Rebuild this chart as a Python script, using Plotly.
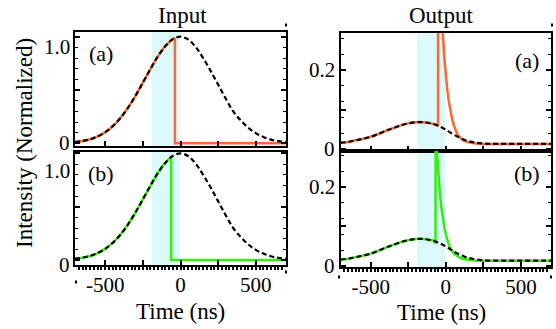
import plotly.graph_objects as go

W, H = 556, 329
FONT = "Liberation Serif"

# ---------------- data ----------------
# Input (normalized) probe pulse, dashed reference
t_in = [-700, -650, -600, -550, -500, -450, -400, -350, -300, -250, -200, -150, -100, -50,
        0, 50, 100, 150, 200, 250, 300, 350, 400, 450, 500, 550, 600, 650, 700]
in_ref = [0.012, 0.022, 0.038, 0.065, 0.104, 0.160, 0.235, 0.330, 0.443, 0.568, 0.696, 0.816, 0.913, 0.978,
          1.000, 0.975, 0.905, 0.800, 0.680, 0.550, 0.420, 0.300, 0.215, 0.145, 0.095, 0.060, 0.035, 0.020, 0.011]

# Input (a): truncated pulse (rising part, then drop)
in_a_rise_t = [-700, -650, -600, -550, -500, -450, -400, -350, -300, -250, -200, -150, -100, -50, -37]
in_a_rise_v = [0.012, 0.022, 0.038, 0.065, 0.104, 0.160, 0.235, 0.330, 0.443, 0.568, 0.696, 0.816, 0.913, 0.978, 0.990]
in_a_drop_t = [-37, -37, 700]
in_a_drop_v = [0.990, 0.0, 0.0]

# Input (b)
in_b_rise_t = [-700, -650, -600, -550, -500, -450, -400, -350, -300, -250, -200, -150, -100, -62]
in_b_rise_v = [0.012, 0.022, 0.038, 0.065, 0.104, 0.160, 0.235, 0.330, 0.443, 0.568, 0.696, 0.816, 0.913, 0.966]
in_b_drop_t = [-62, -62, 700]
in_b_drop_v = [0.966, 0.0, 0.0]

# Output reference (dashed)
t_out = t_in
out_ref = [0.016, 0.018, 0.022, 0.026, 0.031, 0.038, 0.046, 0.053, 0.060, 0.065, 0.068, 0.068, 0.065, 0.059,
           0.049, 0.037, 0.027, 0.020, 0.016, 0.014, 0.013, 0.013, 0.013, 0.013, 0.013, 0.013, 0.013, 0.013, 0.013]

# Output (a)
out_a_rise_t = [-700, -650, -600, -550, -500, -450, -400, -350, -300, -250, -200, -150, -100, -60, -52]
out_a_rise_v = [0.016, 0.018, 0.022, 0.026, 0.031, 0.038, 0.046, 0.053, 0.060, 0.065, 0.068, 0.068, 0.065, 0.061, 0.057]
out_a_spike_t = [-52, -51, -40, -30, -20, -10, 0, 10, 20, 30, 40, 50, 60, 70, 80, 100, 120, 150, 200, 250, 700]
out_a_spike_v = [0.057, 0.57, 0.45, 0.36, 0.29, 0.23, 0.185, 0.148, 0.12, 0.097, 0.079, 0.064, 0.052, 0.043,
                 0.036, 0.027, 0.021, 0.017, 0.014, 0.013, 0.013]

# Output (b)
out_b_rise_t = [-700, -650, -600, -550, -500, -450, -400, -350, -300, -250, -200, -150, -100, -75, -69]
out_b_rise_v = [0.016, 0.018, 0.022, 0.026, 0.031, 0.038, 0.046, 0.053, 0.060, 0.065, 0.068, 0.068, 0.065, 0.063, 0.056]
out_b_spike_t = [-69, -68, -60, -50, -40, -30, -20, -10, 0, 10, 20, 30, 40, 50, 60, 70, 80, 100, 120, 150, 200, 700]
out_b_spike_v = [0.056, 0.35, 0.292, 0.232, 0.186, 0.149, 0.120, 0.098, 0.080, 0.066, 0.054, 0.046, 0.039, 0.033,
                 0.029, 0.026, 0.023, 0.019, 0.017, 0.015, 0.013, 0.013]

band = [-192, -3]
x_tickvals = [-500, -250, 0, 250, 500]
x_ticktext = ["-500", "", "0", "", "500"]

ORANGE = "#ff6633"
GREEN = "#33ee11"
CYAN = "#dcf9fb"

# ---------------- layout helpers ----------------
def px_x(a, b):
    return [a / W, b / W]

def px_y(top, bottom):
    return [1 - bottom / H, 1 - top / H]

LX = px_x(75, 286)
RX = px_x(340.7, 551)

panels = [
    # (xaxis name, yaxis name, xdomain, ydomain, yrange, yticks, minor dtick, bottom)
    ("x", "y", LX, px_y(31.5, 146), [-0.025, 1.049], [0, 0.5, 1.0], 0.1, False),
    ("x2", "y2", LX, px_y(152, 265), [-0.047, 1.013], [0, 0.5, 1.0], 0.1, True),
    ("x3", "y3", RX, px_y(33, 151), [-0.005, 0.294], [0, 0.1, 0.2], 0.04, False),
    ("x4", "y4", RX, px_y(151, 267), [-0.003, 0.291], [0, 0.1, 0.2], 0.04, True),
]

fig = go.Figure()

def add(xa, ya, t, v, color, dash=None, width=2.5, shape="spline"):
    fig.add_trace(go.Scatter(x=t, y=v, xaxis=xa, yaxis=ya, mode="lines",
                             line=dict(color=color, width=width, dash=dash, shape=shape),
                             showlegend=False, hoverinfo="skip"))

DASH = "5px,3px"
DW = 2.2
# Input (a)
add("x", "y", in_a_rise_t, in_a_rise_v, ORANGE)
add("x", "y", in_a_drop_t, in_a_drop_v, ORANGE, shape="linear")
add("x", "y", t_in, in_ref, "black", DASH, DW)
# Input (b)
add("x2", "y2", in_b_rise_t, in_b_rise_v, GREEN)
add("x2", "y2", in_b_drop_t, in_b_drop_v, GREEN, shape="linear")
add("x2", "y2", t_in, in_ref, "black", DASH, DW)
# Output (a)
add("x3", "y3", out_a_rise_t, out_a_rise_v, ORANGE)
add("x3", "y3", out_a_spike_t, out_a_spike_v, ORANGE, shape="linear")
add("x3", "y3", t_out, out_ref, "black", DASH, DW)
# Output (b)
add("x4", "y4", out_b_rise_t, out_b_rise_v, GREEN)
add("x4", "y4", out_b_spike_t, out_b_spike_v, GREEN, shape="linear")
add("x4", "y4", t_out, out_ref, "black", DASH, DW)

layout = dict(width=W, height=H, margin=dict(l=0, r=0, t=0, b=0),
              paper_bgcolor="white", plot_bgcolor="white", showlegend=False,
              font=dict(family=FONT, color="black", size=21))

shapes = []
for xa, ya, xd, yd, yr, yt, ydt, bottom in panels:
    xkey = "xaxis" + xa[1:]
    ykey = "yaxis" + ya[1:]
    layout[xkey] = dict(domain=xd, anchor=ya, range=[-700, 700], showline=True, linewidth=2,
                        linecolor="black", mirror=True, ticks="inside", ticklen=5, tickwidth=1.5,
                        tickcolor="black", tickvals=x_tickvals, ticktext=x_ticktext,
                        showticklabels=bottom, showgrid=False, zeroline=False,
                        tickfont=dict(family=FONT, size=21, color="black"))
    if bottom:
        layout[xkey]["minor"] = dict(ticks="outside", ticklen=3, tickwidth=1.5, dtick=25, tickcolor="black")
    layout[ykey] = dict(domain=yd, anchor=xa, range=yr, showline=True, linewidth=2, linecolor="black",
                        mirror="allticks", ticks="inside", ticklen=5, tickwidth=1.5, tickcolor="black",
                        tickvals=yt, showticklabels=False, showgrid=False, zeroline=False,
                        minor=dict(ticks="inside", ticklen=3, tickwidth=1.2, dtick=ydt, tickcolor="black"))
    shapes.append(dict(type="rect", xref=xa, yref=ya + " domain", x0=band[0], x1=band[1], y0=0, y1=1,
                       fillcolor=CYAN, line=dict(width=0), layer="below"))

# small stray frame marks seen at panel corners of the reference
for mx, my in [(286, 25), (552, 25), (76, 282), (286, 272), (339, 277), (551, 277)]:
    shapes.append(dict(type="rect", xref="paper", yref="paper",
                       x0=(mx - 1) / W, x1=(mx + 1) / W, y0=1 - (my + 1.5) / H, y1=1 - (my - 1.5) / H,
                       fillcolor="black", line=dict(width=0)))
layout["shapes"] = shapes

def ann(text, xpx, ypx, xanchor="center", size=21, angle=0):
    return dict(text=text, x=xpx / W, y=1 - ypx / H, xref="paper", yref="paper", showarrow=False,
                xanchor=xanchor, yanchor="middle", textangle=angle,
                font=dict(family=FONT, size=size, color="black"))

anns = [
    ann("Input", 182, 15, size=23),
    ann("Output", 441, 15, size=23),
    ann("Time (ns)", 180, 311, size=23),
    ann("Time (ns)", 441, 312, size=23),
    ann("Intensity (Normalized)", 24, 143, size=23, angle=-90),
    ann("(a)", 101, 53, size=22),
    ann("(b)", 101, 173, size=22),
    ann("(a)", 527, 60, size=22),
    ann("(b)", 527, 173, size=22),
    # y tick labels
    ann("1.0", 72, 47, "right"),
    ann("0", 72, 143, "right"),
    ann("1.0", 72, 171, "right"),
    ann("0", 72, 265, "right"),
    ann("0.2", 337, 70, "right"),
    ann("0", 337, 149, "right"),
    ann("0.2", 337, 187, "right"),
    ann("0", 337, 266, "right"),
]
layout["annotations"] = anns

fig.update_layout(**layout)
fig.write_html("out.html", config={"displayModeBar": False},
               post_script="document.body.style.margin='0';document.body.style.overflow='hidden';")
